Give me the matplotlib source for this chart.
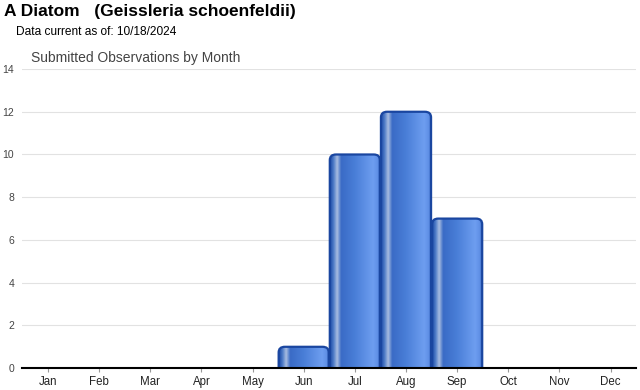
import numpy as np
import matplotlib.pyplot as plt
from matplotlib.colors import LinearSegmentedColormap
from matplotlib.patches import FancyBboxPatch

months = ["Jan", "Feb", "Mar", "Apr", "May", "Jun",
          "Jul", "Aug", "Sep", "Oct", "Nov", "Dec"]
counts = [0, 0, 0, 0, 0, 1, 10, 12, 7, 0, 0, 0]
yticks = [0, 2, 4, 6, 8, 10, 12, 14]

plt.rcParams['font.family'] = ['Liberation Sans', 'DejaVu Sans']

# horizontal shading of each bar, left edge to right edge
shade = LinearSegmentedColormap.from_list("bar", [
    (0.00, "#1b4aa6"), (0.07, "#4f7cc8"), (0.14, "#a8bde0"),
    (0.22, "#3a6bc6"), (0.50, "#4a7fd8"), (0.85, "#6e9ef0"),
    (0.94, "#5f8fe6"), (1.00, "#1b4aa6")])
grad = np.linspace(0, 1, 256).reshape(1, -1)

fig = plt.figure(figsize=(6.4, 3.9), dpi=100)
ax = fig.add_axes([0.035, 0.056, 0.959, 0.767])

x = np.arange(len(months))
w = 0.98
for xi, c in zip(x, counts):
    if c <= 0:
        continue
    x0 = xi - w / 2
    # start below zero so the rounded bottom is hidden under the axis
    patch = FancyBboxPatch((x0, -0.4), w, c + 0.4,
                           boxstyle="round,pad=0,rounding_size=0.12",
                           mutation_aspect=2.2,
                           facecolor="none", edgecolor="#1a46a0",
                           linewidth=1.6, zorder=3)
    ax.add_patch(patch)
    im = ax.imshow(grad, cmap=shade, aspect="auto",
                   extent=(x0, x0 + w, -0.4, c), zorder=2,
                   interpolation="bilinear")
    im.set_clip_path(patch)

ax.set_xlim(-0.5, 11.5)
ax.set_ylim(0, 14)
ax.set_yticks(yticks)
ax.set_xticks(x)
ax.set_xticklabels(months, fontsize=8.3, color="#222222")
ax.tick_params(axis="y", labelsize=7.5, colors="#444444", length=0, pad=6)
ax.tick_params(axis="x", length=3, color="#999999", pad=3)
ax.grid(axis="y", color="#e2e2e2", linewidth=0.8, zorder=0)
ax.set_axisbelow(True)
for s in ["top", "right", "left"]:
    ax.spines[s].set_visible(False)
ax.spines["bottom"].set_linewidth(1.5)
ax.spines["bottom"].set_zorder(5)

fig.text(0.006, 0.958, "A Diatom   (Geissleria schoenfeldii)",
         fontsize=12.5, fontweight="bold", va="baseline")
fig.text(0.025, 0.91, "Data current as of: 10/18/2024",
         fontsize=8.6, va="baseline")
fig.text(0.049, 0.842, "Submitted Observations by Month",
         fontsize=10, color="#444444", va="baseline")

fig.savefig("out.png", dpi=100)
